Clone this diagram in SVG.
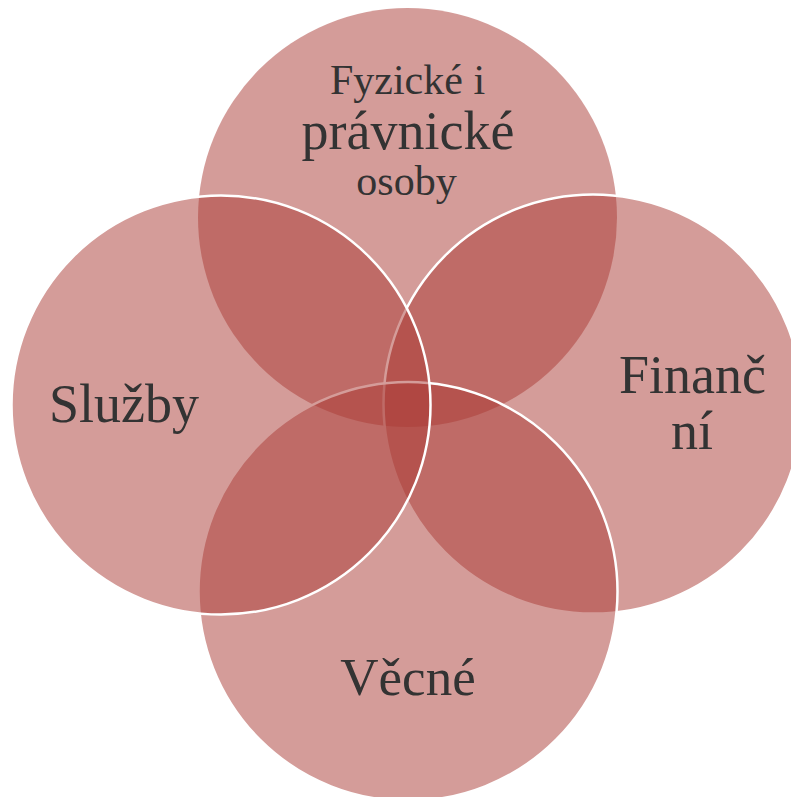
<svg xmlns="http://www.w3.org/2000/svg" width="791" height="797" viewBox="0 0 791 797">
  <style>
    .c { fill: rgb(171,60,54); fill-opacity: 0.51; }
    .s { stroke: #ffffff; stroke-width: 2.5; }
    .t { font-family: "Liberation Serif", "DejaVu Serif", serif; fill: #333333; text-anchor: middle; }
  </style>
  <rect width="791" height="797" fill="#ffffff"/>
  <g id="node-top">
    <circle class="c" cx="407.5" cy="217.5" r="209.5"/>
  </g>
  <g id="node-right">
    <circle class="c s" cx="593" cy="404" r="209.5"/>
  </g>
  <g id="node-bottom">
    <circle class="c s" cx="408" cy="591.5" r="209.5"/>
  </g>
  <g id="node-left">
    <circle class="c s" cx="221" cy="405" r="209.5"/>
  </g>
  <g id="connectors"></g>
  <g id="labels">
    <text class="t" x="407.5" y="94" font-size="42">Fyzické i</text>
    <text class="t" x="408" y="149" font-size="54">právnické</text>
    <text class="t" x="406.5" y="195" font-size="42">osoby</text>
    <text class="t" x="124" y="422" font-size="54">Služby</text>
    <text class="t" x="692.5" y="393" font-size="54">Finanč</text>
    <text class="t" x="692" y="449" font-size="54">ní</text>
    <text class="t" x="408" y="695" font-size="53">Věcné</text>
  </g>
</svg>
